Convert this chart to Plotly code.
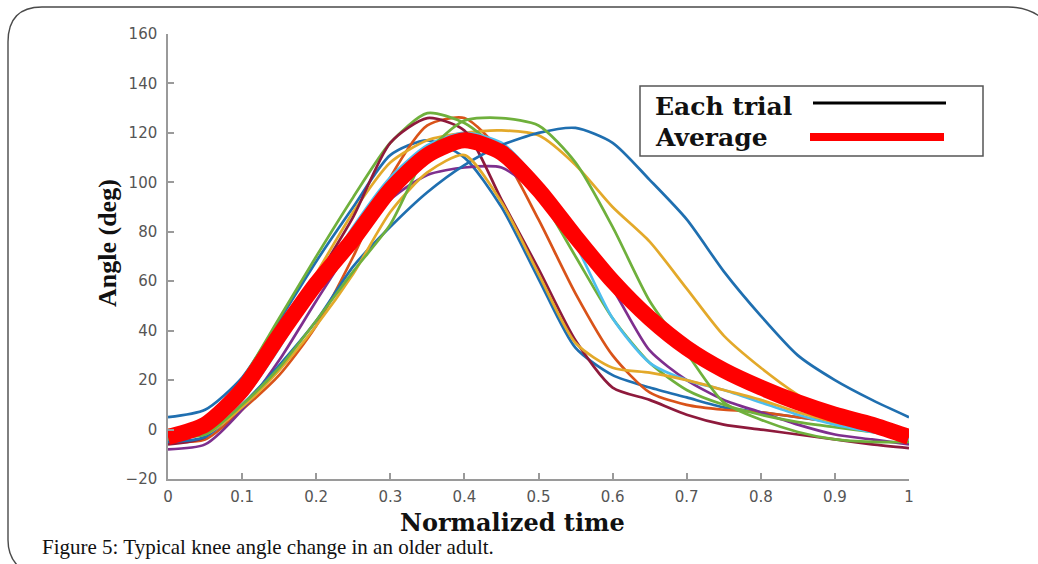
import plotly.graph_objects as go

# ---------------- data ----------------
TIME = [0, 0.05, 0.1, 0.15, 0.2, 0.25, 0.3, 0.35, 0.4, 0.45, 0.5,
        0.55, 0.6, 0.65, 0.7, 0.75, 0.8, 0.85, 0.9, 0.95, 1.0]

trial_blue_early = [5, 8, 21, 44, 68, 90, 111, 117, 110, 90, 61, 33, 22, 17, 13, 9, 7, 5, 3, 1, -1]
trial_orange = [-5, -4, 8, 22, 42, 70, 102, 123, 126, 112, 85, 55, 30, 15, 10, 8, 7, 5, 3, 0, -4]
trial_yellow_late = [-2, 0, 15, 38, 63, 88, 108, 117, 120, 121, 119, 107, 90, 76, 57, 38, 25, 14, 5, 0, -3]
trial_purple = [-8, -6, 8, 28, 52, 75, 93, 103, 106, 106, 95, 78, 57, 32, 20, 12, 7, 2, -2, -4, -6]
trial_green_early = [-4, -1, 20, 45, 70, 94, 116, 128, 124, 112, 95, 70, 45, 27, 16, 10, 6, 3, 1, -1, -3]
trial_light_blue = [-3, -1, 12, 33, 58, 82, 102, 115, 120, 116, 100, 75, 45, 27, 20, 16, 11, 6, 2, -1, -4]
trial_dark_red = [-6, -3, 14, 36, 61, 86, 116, 126, 121, 93, 65, 36, 17, 12, 6, 2, 0, -2, -4, -6, -7.5]
trial_blue_late = [-5, -3, 10, 26, 44, 66, 82, 96, 107, 115, 120, 122, 116, 101, 85, 64, 46, 30, 20, 12, 5]
trial_yellow_early = [0, -2, 9, 24, 42, 63, 88, 104, 111, 92, 63, 35, 25, 23, 20, 16, 12, 7, 3, 0, -2]
trial_green_late = [-3, -2, 10, 25, 44, 64, 83, 112, 125, 126, 123, 108, 82, 52, 31, 11, 4, -1, -4, -5, -5]

average = [-3, 2, 16, 38, 59, 77, 97, 111, 117, 112, 97, 78, 60, 45, 33, 24, 17, 11, 6, 2, -3]

trials = [
    (trial_blue_early, "#1F6FB0"),
    (trial_orange, "#D95319"),
    (trial_yellow_late, "#E3A92A"),
    (trial_purple, "#7E2F8E"),
    (trial_green_early, "#6FB03C"),
    (trial_light_blue, "#4DBEEE"),
    (trial_dark_red, "#8E1A3C"),
    (trial_blue_late, "#1F6FB0"),
    (trial_yellow_early, "#E3A92A"),
    (trial_green_late, "#6FB03C"),
]

X_TICKS = [0, 0.1, 0.2, 0.3, 0.4, 0.5, 0.6, 0.7, 0.8, 0.9, 1]
X_TICK_TEXT = ["0", "0.1", "0.2", "0.3", "0.4", "0.5", "0.6", "0.7", "0.8", "0.9", "1"]
Y_TICKS = [-20, 0, 20, 40, 60, 80, 100, 120, 140, 160]
Y_TICK_TEXT = ["\u221220", "0", "20", "40", "60", "80", "100", "120", "140", "160"]

# ---------------- layout geometry (pixels) ----------------
W, H = 1038, 564
L, R, T, B = 168, 909, 34, 479  # plot area


def px(x):
    return (x - L) / (R - L)


def py(y):
    return (B - y) / (B - T)


fig = go.Figure()
for vals, color in trials:
    fig.add_trace(go.Scatter(
        x=TIME, y=vals, mode="lines",
        line=dict(color=color, width=2.7, shape="spline", smoothing=0.7),
        showlegend=False, hoverinfo="skip"))

fig.add_trace(go.Scatter(
    x=TIME, y=average, mode="lines",
    line=dict(color="#FF0000", width=16, shape="spline", smoothing=0.7),
    showlegend=False, hoverinfo="skip"))

axis_common = dict(
    showgrid=False, zeroline=False, showline=True,
    linecolor="#9a9a9a", linewidth=1.5,
    ticks="inside", ticklen=6, tickwidth=1.5, tickcolor="#9a9a9a",
    tickfont=dict(family="DejaVu Sans", size=15, color="#555555"),
)

fig.update_xaxes(range=[0, 1], tickvals=X_TICKS, ticktext=X_TICK_TEXT,
                 ticklabelstandoff=3, **axis_common)
fig.update_yaxes(range=[-20, 160], tickvals=Y_TICKS, ticktext=Y_TICK_TEXT,
                 ticklabelstandoff=6, **axis_common)

shapes = []
# rounded page frame
frame_path = (f"M {px(18)},{py(566)} Q {px(8)},{py(556)} {px(8)},{py(540)} "
              f"L {px(8)},{py(42)} Q {px(8)},{py(7)} {px(42)},{py(7)} "
              f"L {px(1008)},{py(7)} Q {px(1030)},{py(7)} {px(1044)},{py(20)}")
shapes.append(dict(type="path", xref="paper", yref="paper", path=frame_path,
                   line=dict(color="#4a4a4a", width=1.4)))
# legend box
shapes.append(dict(type="rect", xref="paper", yref="paper",
                   x0=px(640), x1=px(983), y0=py(156), y1=py(86),
                   line=dict(color="#555555", width=1.5), fillcolor="white"))
shapes.append(dict(type="line", xref="paper", yref="paper",
                   x0=px(813), x1=px(946), y0=py(103), y1=py(103),
                   line=dict(color="black", width=3)))
shapes.append(dict(type="line", xref="paper", yref="paper",
                   x0=px(810), x1=px(944), y0=py(137), y1=py(137),
                   line=dict(color="#FF0000", width=8)))

annotations = [
    dict(text="<b>Each trial</b>", x=px(653), y=py(106), xref="paper", yref="paper",
         xanchor="left", yanchor="middle", showarrow=False,
         font=dict(family="DejaVu Serif", size=25, color="#111111")),
    dict(text="<b>Average</b>", x=px(653), y=py(137), xref="paper", yref="paper",
         xanchor="left", yanchor="middle", showarrow=False,
         font=dict(family="DejaVu Serif", size=25, color="#111111")),
    dict(text="<b>Normalized time</b>", x=px(512), y=py(522), xref="paper", yref="paper",
         xanchor="center", yanchor="middle", showarrow=False,
         font=dict(family="DejaVu Serif", size=24, color="#111111")),
    dict(text="<b>Angle (deg)</b>", x=px(108), y=py(243), xref="paper", yref="paper",
         xanchor="center", yanchor="middle", showarrow=False, textangle=-90,
         font=dict(family="Liberation Serif", size=26, color="#111111")),
    dict(text="Figure 5: Typical knee angle change in an older adult.",
         x=px(40), y=py(547), xref="paper", yref="paper",
         xanchor="left", yanchor="middle", showarrow=False,
         font=dict(family="Liberation Serif", size=21, color="#111111")),
]

fig.update_layout(
    width=W, height=H,
    margin=dict(l=L, r=W - R, t=T, b=H - B),
    paper_bgcolor="white", plot_bgcolor="white",
    shapes=shapes, annotations=annotations,
    showlegend=False,
)

fig.write_html("out.html", config={"displayModeBar": False})
